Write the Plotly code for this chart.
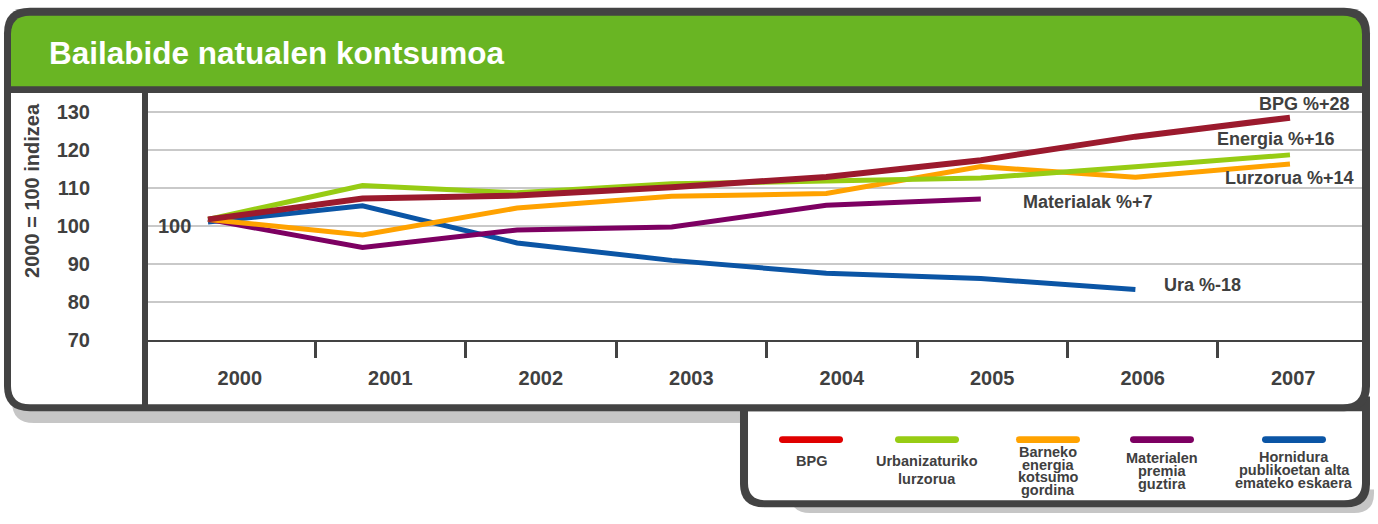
import plotly.graph_objects as go

# --- data (2000 = 100 index) ---
years = [2000, 2001, 2002, 2003, 2004, 2005, 2006, 2007]
year_labels = ["2000", "2001", "2002", "2003", "2004", "2005", "2006", "2007"]

bpg = [101.7, 107.2, 108.0, 110.2, 112.9, 117.3, 123.5, 128.5]
lurzorua = [101.7, 110.6, 108.7, 111.1, 111.8, 112.6, 115.6, 118.7]
energia = [101.7, 97.6, 104.7, 107.8, 108.5, 115.6, 112.8, 116.3]
materialak = [101.7, 94.3, 98.9, 99.7, 105.4, 107.1, None, None]
ura = [101.0, 105.3, 95.5, 90.9, 87.5, 86.1, 83.2, None]

y_ticks = [70, 80, 90, 100, 110, 120, 130]

end_labels = ["BPG %+28", "Energia %+16", "Lurzorua %+14", "Materialak %+7", "Ura %-18"]

legend_texts = [
    ["BPG"],
    ["Urbanizaturiko", "lurzorua"],
    ["Barneko", "energia", "kotsumo", "gordina"],
    ["Materialen", "premia", "guztira"],
    ["Hornidura", "publikoetan alta", "emateko eskaera"],
]

# --- styling ---
W, H = 1378, 524
DARK = "#434343"
TXT = "#404040"
FONT = "Liberation Sans, Arial, sans-serif"
line_colors = ["#0b55a5", "#7d0062", "#ffa200", "#97cc14", "#9b1a2d"]
legend_colors = ["#e00000", "#97cc14", "#ffa200", "#7d0062", "#0b55a5"]


def px(x):
    return x / W


def py(y):
    return 1 - y / H


def P(x, y):
    return f"{px(x):.5f},{py(y):.5f}"


def rpath(x0, y0, x1, y1, tl=0, tr=0, br=0, bl=0):
    return (f"M{P(x0 + tl, y0)} L{P(x1 - tr, y0)} Q{P(x1, y0)} {P(x1, y0 + tr)} "
            f"L{P(x1, y1 - br)} Q{P(x1, y1)} {P(x1 - br, y1)} "
            f"L{P(x0 + bl, y1)} Q{P(x0, y1)} {P(x0, y1 - bl)} "
            f"L{P(x0, y0 + tl)} Q{P(x0, y0)} {P(x0 + tl, y0)} Z")


def box(path, color):
    return dict(type="path", xref="paper", yref="paper", path=path,
                fillcolor=color, line=dict(width=0), layer="below")


fig = go.Figure()

series = [ura, materialak, energia, lurzorua, bpg]
widths = [5, 5, 5, 5, 6]
for vals, col, w in zip(series, line_colors, widths):
    fig.add_trace(go.Scatter(x=years, y=vals, mode="lines",
                             line=dict(color=col, width=w),
                             connectgaps=False, hoverinfo="skip"))

# empty trace so the year-label axis gets drawn
fig.add_trace(go.Scatter(x=list(range(len(year_labels))), y=[None] * len(year_labels),
                         xaxis="x2", mode="lines", hoverinfo="skip"))

shapes = [
    box(rpath(12, 400, 748, 432, bl=22), "#c6c6c6"),
    box(rpath(790, 500, 1374, 524, br=20, bl=20), "#c6c6c6"),
    box(rpath(740, 405, 1370, 518, br=24, bl=24), DARK),
    box(rpath(748, 420, 1362, 511, br=18, bl=18), "white"),
    box(rpath(4, 8, 1370, 420, 26, 26, 26, 26), DARK),
    box(rpath(11, 16, 1362, 88, tl=19, tr=19), "#69b523"),
    box(rpath(11, 95, 142, 413, bl=19), "white"),
    box(rpath(148, 95, 1362, 413, br=19), "white"),
]

# legend swatches and texts
leg_cx = [811, 927, 1048, 1162, 1294]
sw_half = 32
text_y0 = [471, 471, 462, 468, 467]
text_step = [0, 18, 12.8, 13, 13]
annotations = []
for i, (col, lines) in enumerate(zip(legend_colors, legend_texts)):
    cx = leg_cx[i]
    shapes.append(dict(type="path", xref="paper", yref="paper",
                       path=rpath(cx - sw_half, 445.5, cx + sw_half, 452.5, 3.5, 3.5, 3.5, 3.5),
                       fillcolor=col, line=dict(width=0), layer="above"))
    for j, t in enumerate(lines):
        annotations.append(dict(text=t, xref="paper", yref="paper", x=px(cx),
                                y=py(text_y0[i] + j * text_step[i]),
                                xanchor="center", yanchor="middle", showarrow=False,
                                font=dict(family=FONT, size=14.5, color=TXT, weight="bold")))

# vertical divider between axis panel and plot
shapes.append(dict(type="line", xref="paper", yref="paper",
                   x0=px(145), x1=px(145), y0=py(95), y1=py(415),
                   line=dict(color=DARK, width=6), layer="above"))

# title
annotations.append(dict(text="Bailabide natualen kontsumoa", xref="paper", yref="paper",
                        x=px(47), y=py(54), xanchor="left", yanchor="middle", showarrow=False,
                        font=dict(family=FONT, size=31.5, color="white", weight="bold")))

# y axis title
annotations.append(dict(text="2000 = 100 indizea", xref="paper", yref="paper",
                        x=px(32), y=py(195), textangle=-90, xanchor="center", yanchor="middle",
                        showarrow=False,
                        font=dict(family=FONT, size=20, color=TXT, weight="bold")))

# "100" marker inside plot
annotations.append(dict(text="100", xref="paper", yref="y", x=px(193), y=100,
                        xanchor="right", yanchor="middle", showarrow=False,
                        font=dict(family=FONT, size=20, color=TXT, weight="bold")))

# end-of-line labels
label_pos = [(1257, 106), (1215, 142), (1223, 182), (1021, 206), (1162, 291)]
for t, (lx, ly) in zip(end_labels, label_pos):
    annotations.append(dict(text=t, xref="paper", yref="paper", x=px(lx), y=py(ly),
                            xanchor="left", yanchor="middle", showarrow=False,
                            font=dict(family=FONT, size=18, color=TXT, weight="bold")))

x_dom = [px(148), px(1362)]
fig.update_layout(
    width=W, height=H, autosize=False,
    margin=dict(l=0, r=0, t=0, b=0),
    paper_bgcolor="white", plot_bgcolor="rgba(0,0,0,0)",
    showlegend=False,
    shapes=shapes, annotations=annotations,
    xaxis=dict(domain=x_dom, range=[1999.612, 2007.466], showline=True,
               linecolor=DARK, linewidth=2, showticklabels=False, ticks="",
               showgrid=False, zeroline=False, fixedrange=True),
    xaxis2=dict(domain=x_dom, overlaying="x", anchor="y", side="bottom",
                range=[-0.61, 7.457], tickmode="array", tickvals=list(range(len(year_labels))),
                ticktext=year_labels, ticks="", showgrid=False, showline=False,
                zeroline=False, ticklabelstandoff=24, fixedrange=True,
                tickfont=dict(family=FONT, size=20, color=TXT, weight="bold"),
                minor=dict(tickmode="array", tickvals=[k + 0.5 for k in range(len(year_labels) - 1)],
                           ticks="outside", ticklen=17, tickwidth=3, tickcolor=DARK)),
    yaxis=dict(domain=[py(347), py(95)], range=[70, 135], tickmode="array",
               tickvals=y_ticks, showgrid=True, gridcolor="#c9c9c9", gridwidth=2,
               ticks="", zeroline=False, showline=False, ticklabelstandoff=57,
               fixedrange=True,
               tickfont=dict(family=FONT, size=20, color=TXT, weight="bold")),
)

fig.write_html("out.html", config={"displayModeBar": False, "responsive": False},
               post_script="document.documentElement.style.margin='0';"
                           "document.body.style.margin='0';"
                           "document.documentElement.style.overflow='hidden';"
                           "document.body.style.overflow='hidden';")
